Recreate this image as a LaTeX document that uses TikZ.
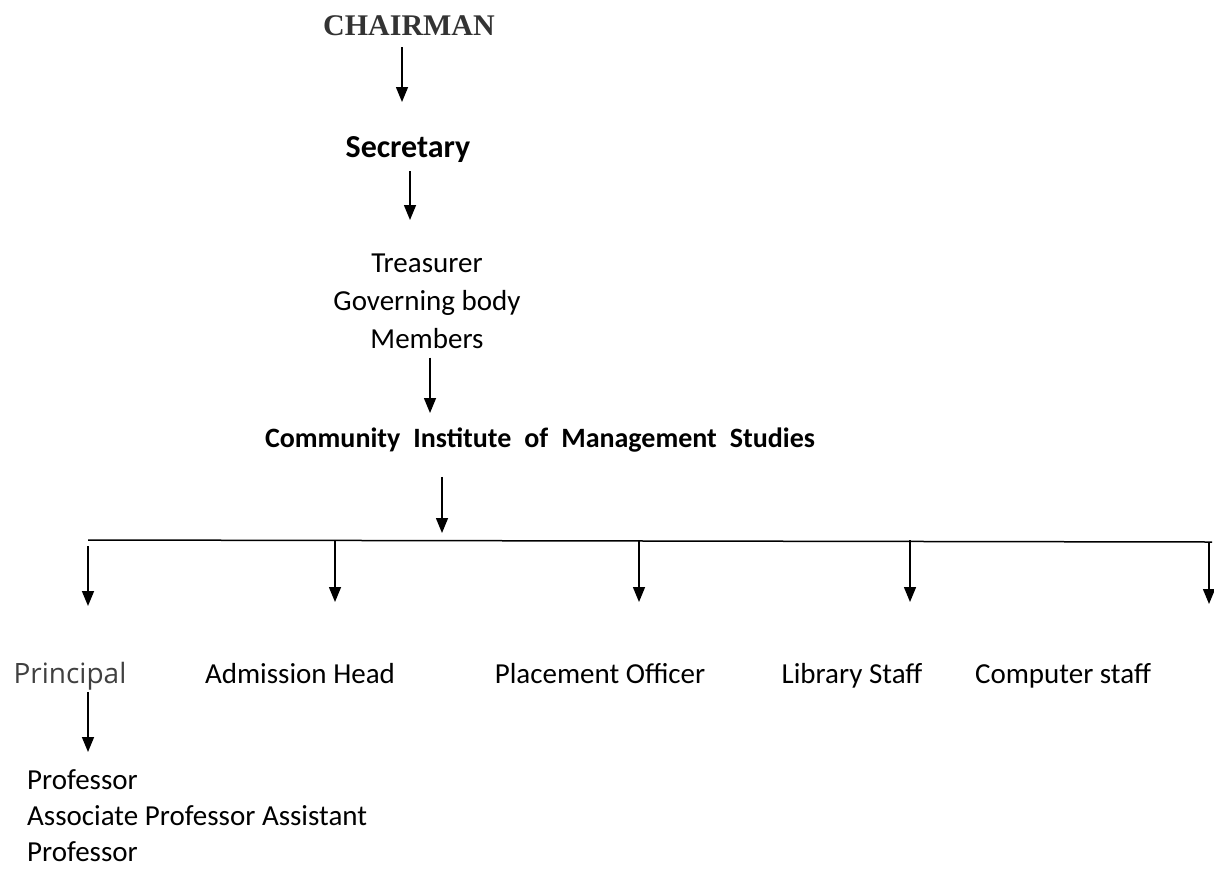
\documentclass[tikz,border=0pt]{standalone}
\usepackage{fontspec}
\setmainfont{Carlito}
\newfontfamily\chairfont{Liberation Serif}
\newfontfamily\princfont{Open Sans}
\usetikzlibrary{arrows.meta}
\definecolor{darkgrey}{HTML}{333333}
\definecolor{princgrey}{HTML}{404040}
\newcommand\widespace{\spaceskip=13pt plus 1pt\relax}

\begin{document}
\begin{tikzpicture}[x=1pt,y=-1pt]
    \tikzset{%
      chairtxt/.style={font=\chairfont\bfseries\fontsize{30}{34}\selectfont,
        text=darkgrey, inner sep=0pt, anchor=base},
      bosstxt/.style={font=\bfseries\fontsize{32}{36}\selectfont, inner sep=0pt,
        anchor=base},
      plain/.style={font=\fontsize{29}{38}\selectfont, align=center, inner sep=0pt},
      label/.style={font=\fontsize{29}{34}\selectfont, inner sep=0pt, anchor=base},
      arr/.style={-{Triangle[width=12pt,length=15pt]}, line width=1.5pt},
    }
    \useasboundingbox (0,0) rectangle (1214,871);

    \node[chairtxt] (chair) at (409,35) {CHAIRMAN};
    \node[bosstxt] (secr) at (408,157) {Secretary};
    \node[plain, anchor=north] (board) at (427,253.5)
      {Treasurer\\Governing body\\Members};
    \node[bosstxt, font=\bfseries\fontsize{28}{32}\selectfont]
      (cims) at (540,447) {\widespace Community Institute of Management Studies};

    \coordinate (tip1) at (402,102);
    \coordinate (tip2) at (410,220);
    \coordinate (tip3) at (430,413);
    \coordinate (tip4) at (442,533);
    \draw[arr, shorten <=12pt] (chair.south -| tip1) -- (tip1);
    \draw[arr, shorten <=9pt] (secr.south -| tip2) -- (tip2);
    \draw[arr, shorten <=9pt] (board.south -| tip3) -- (tip3);
    \draw[arr, shorten <=25pt] (cims.south -| tip4) -- (tip4);

    % bar over the five heads
    \coordinate (barL) at (88,540);
    \coordinate (barR) at (1212,542);
    \draw[line width=1.5pt] (barL) -- (barR);

    \coordinate (b1) at (88,606);
    \coordinate (b2) at (335,602);
    \coordinate (b3) at (639,602);
    \coordinate (b4) at (910,602);
    \coordinate (b5) at (1209,604);
    \draw[arr, shorten <=6pt] (b1 |- barL) -- (b1);
    \draw[arr] (b2 |- barL) -- (b2);
    \draw[arr] (b3 |- barL) -- (b3);
    \draw[arr] (b4 |- barL) -- (b4);
    \draw[arr] (b5 |- barR) -- (b5);

    \node[label, font=\princfont\fontsize{28}{32}\selectfont, text=princgrey]
      (prin) at (70,683) {Principal};
    \node[label] (adm) at (300,683) {Admission Head};
    \node[label] (plac) at (600,683) {Placement Officer};
    \node[label] (lib) at (852,683) {Library Staff};
    \node[label] (comp) at (1063,683) {Computer staff};

    \coordinate (tip5) at (88,752);
    \draw[arr, shorten <=2pt] (prin.south -| tip5) -- (tip5);
    \node[plain, font=\fontsize{29}{36}\selectfont, align=left, anchor=north west]
      (prof) at (27,769.5) {Professor\\Associate Professor Assistant\\Professor};
  \end{tikzpicture}
\end{document}
